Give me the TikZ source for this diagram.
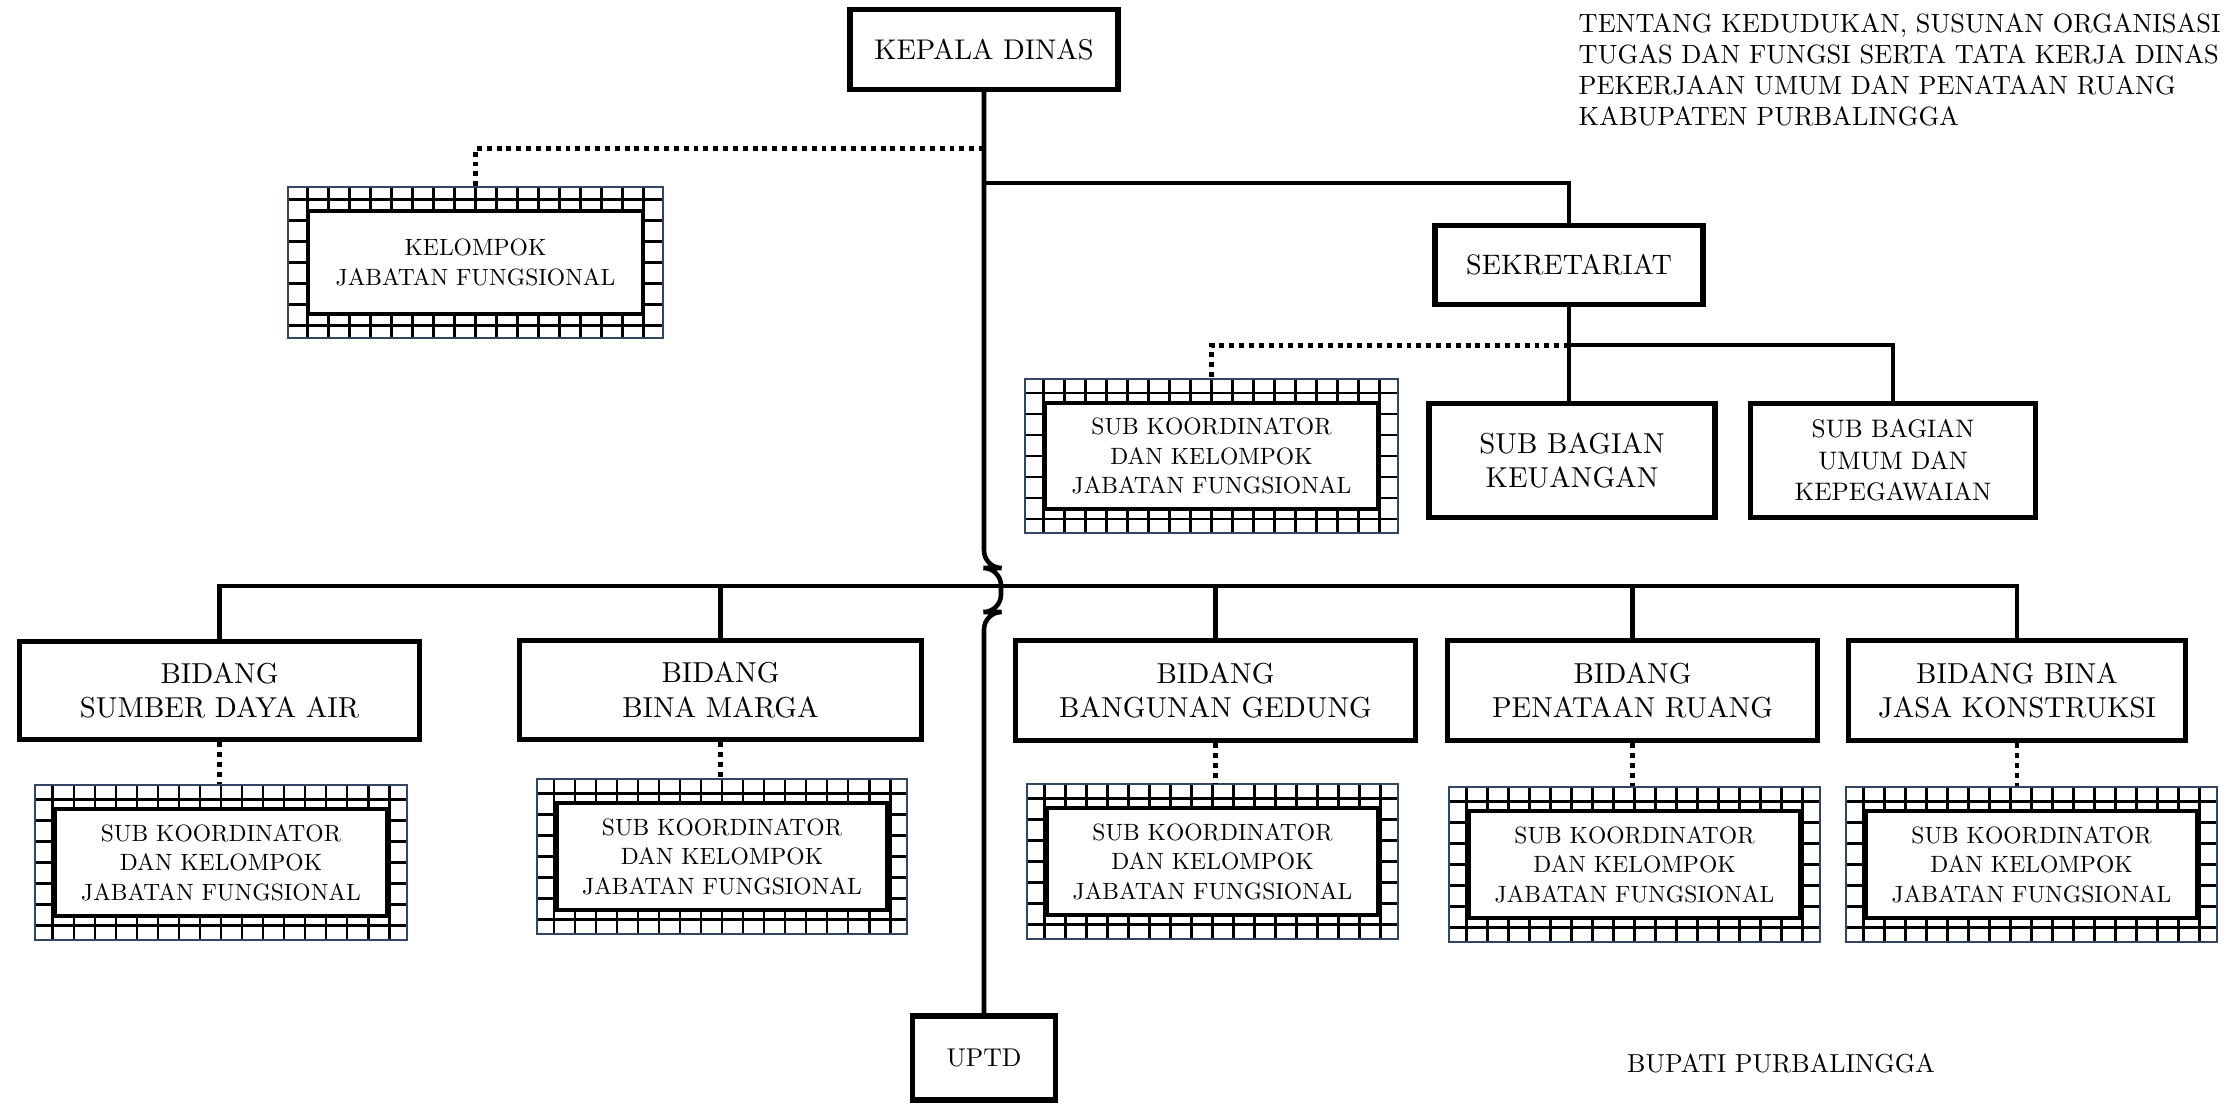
\documentclass[tikz,border=0pt]{standalone}
\usepackage{fontspec}
\setmainfont{lmroman10-regular}[Extension=.otf]
\usetikzlibrary{positioning,calc}
\definecolor{frameblue}{RGB}{50,70,100}

% boxed group: grid frame with a white box inside
\newcommand{\fgbox}[5]{%
  \node[gridframe, minimum width=#3, minimum height=#4] (#1) at (#2) {};
  \node[fgtext, minimum width=#3-0.40cm, minimum height=#4-0.48cm] (#1in) at (#1.center) {#5};}

\begin{document}
\begin{tikzpicture}[x=0.01cm, y=-0.01cm,
    unitbox/.style={draw, line width=1.5pt, fill=white, align=center, inner sep=1pt,
      font=\fontsize{8.2}{9.8}\selectfont},
    conn/.style={line width=1.3pt},
    dotline/.style={line width=1.4pt, dash pattern=on 1.4pt off 1.4pt},
    gridframe/.style={draw=frameblue, line width=0.6pt,
      path picture={\draw[black, line width=0.8pt, step=0.21cm]
        (path picture bounding box.south west) grid (path picture bounding box.north east);}},
    fgtext/.style={draw, line width=1.3pt, fill=white, align=center, inner sep=1pt,
      font=\fontsize{6.7}{8.4}\selectfont}]
  \useasboundingbox (0,0) rectangle (2228,1103);

  % heading text
  \node[anchor=north west, inner sep=0pt, align=left, font=\fontsize{7.5}{8.8}\selectfont] (head) at (1578,13)
    {TENTANG KEDUDUKAN, SUSUNAN ORGANISASI\\TUGAS DAN FUNGSI SERTA TATA KERJA DINAS\\PEKERJAAN UMUM DAN PENATAAN RUANG\\KABUPATEN PURBALINGGA};
  \node[inner sep=0pt, font=\fontsize{7.4}{8.8}\selectfont] (bupati) at (1781,1063) {BUPATI PURBALINGGA};

  % top level
  \node[unitbox, minimum width=2.68cm, minimum height=0.80cm, font=\fontsize{8.1}{9.8}\selectfont] (kepala) at (984,49.5) {KEPALA DINAS};
  \node[unitbox, minimum width=2.68cm, minimum height=0.79cm, font=\fontsize{8.0}{9.8}\selectfont] (sek) at (1569,265) {SEKRETARIAT};
  \node[unitbox, minimum width=2.86cm, minimum height=1.14cm] (keu) at (1572,460.5) {SUB BAGIAN\\KEUANGAN};
  \node[unitbox, minimum width=2.85cm, minimum height=1.14cm, font=\fontsize{7.2}{8.9}\selectfont] (umum) at (1893,460.5)
    {SUB BAGIAN\\UMUM DAN\\KEPEGAWAIAN};
  \fgbox{kjf}{475.5,262.5}{3.75cm}{1.51cm}{KELOMPOK\\JABATAN FUNGSIONAL}
  \fgbox{sks}{1211.5,456}{3.73cm}{1.54cm}{SUB KOORDINATOR\\DAN KELOMPOK\\JABATAN FUNGSIONAL}

  % bidang
  \node[unitbox, minimum width=4.00cm, minimum height=0.98cm] (sda) at (219.5,690.5) {BIDANG\\SUMBER DAYA AIR};
  \node[unitbox, minimum width=4.02cm, minimum height=0.99cm] (bm) at (720.5,690) {BIDANG\\BINA MARGA};
  \node[unitbox, minimum width=4.00cm, minimum height=1.00cm] (bg) at (1215.5,690.5) {BIDANG\\BANGUNAN GEDUNG};
  \node[unitbox, minimum width=3.70cm, minimum height=1.00cm] (pr) at (1632.5,690.5) {BIDANG\\PENATAAN RUANG};
  \node[unitbox, minimum width=3.37cm, minimum height=1.00cm] (jk) at (2017,690.5) {BIDANG BINA\\JASA KONSTRUKSI};
  \fgbox{ssda}{221,862.5}{3.72cm}{1.55cm}{SUB KOORDINATOR\\DAN KELOMPOK\\JABATAN FUNGSIONAL}
  \fgbox{sbm}{722,856.5}{3.70cm}{1.55cm}{SUB KOORDINATOR\\DAN KELOMPOK\\JABATAN FUNGSIONAL}
  \fgbox{sbg}{1212.5,861.5}{3.71cm}{1.55cm}{SUB KOORDINATOR\\DAN KELOMPOK\\JABATAN FUNGSIONAL}
  \fgbox{spr}{1634.5,864.5}{3.71cm}{1.55cm}{SUB KOORDINATOR\\DAN KELOMPOK\\JABATAN FUNGSIONAL}
  \fgbox{sjk}{2031.5,864.5}{3.71cm}{1.55cm}{SUB KOORDINATOR\\DAN KELOMPOK\\JABATAN FUNGSIONAL}
  \node[unitbox, minimum width=1.43cm, minimum height=0.84cm, font=\fontsize{7.3}{8.8}\selectfont] (uptd) at (984,1058) {UPTD};

  % spine with the hop over the bus line
  \draw[conn, rounded corners=5] (kepala.south) -- (984,568) -- (1001,568) -- (1001,612) -- (984,612) -- (uptd.north);
  \draw[dotline] (kepala.south) ++(0,56) -| (kjf.north);
  \draw[conn] (kepala.south) ++(0,91) -| (sek.north);

  % sekretariat branch
  \draw[conn] (sek.south) -- ++(0,38) coordinate (sk) -| (umum.north);
  \draw[conn] (sk) -- (sk |- keu.north);
  \draw[dotline] (sk) -| (sks.north);

  % bus to the bidang
  \coordinate (bus) at (984,586);
  \draw[conn] (sda.north) |- (bus) -| (jk.north);
  \foreach \b in {bm,bg,pr}
    \draw[conn] (\b.north) -- (\b.north |- bus);
  \foreach \b/\s in {sda/ssda,bm/sbm,bg/sbg,pr/spr,jk/sjk}
    \draw[dotline] (\b.south) -- (\b.south |- \s.north);
\end{tikzpicture}
\end{document}
